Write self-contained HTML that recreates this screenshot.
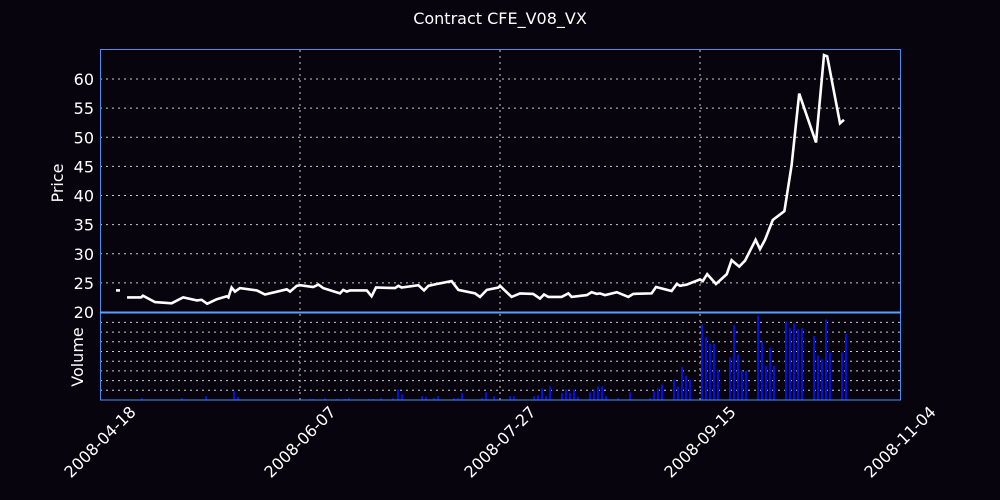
<!DOCTYPE html>
<html><head><meta charset="utf-8"><style>
html,body{margin:0;padding:0;background:#07040e;}
svg{display:block;font-family:"DejaVu Sans","Liberation Sans",sans-serif;}
</style></head><body>
<svg id="chart" width="1000" height="500" viewBox="0 0 1000 500">
<rect x="0" y="0" width="1000" height="500" fill="#07040e"/>
<text x="500" y="24" fill="#fff" font-size="16" text-anchor="middle">Contract CFE_V08_VX</text>
<g id="grid"></g>
<g id="vol"></g>
<g id="price"></g>
<g id="axes"></g>
<text transform="translate(63,183) rotate(-90)" fill="#fff" font-size="16" text-anchor="middle">Price</text>
<text transform="translate(83,357) rotate(-90)" fill="#fff" font-size="16" text-anchor="middle">Volume</text>
</svg>
<script>
// day offsets from 2008-04-18
const priceDays=[4,5,null,6.75,10.25,10.75,13.75,17.9,20.8,24.2,25.4,26.8,29.2,31.7,32.1,32.9,33.75,35,39.2,41.25,46.7,47.5,49.2,
50,53.3,54.6,55.8,60,60.8,61.7,62.5,66.7,67.9,69,73.75,74.6,75.4,79.6,81,82.1,84.2,87.9,89.6,93.75,95,96.7,99.6,
100,102.9,105,108.3,110,111,112.1,115.4,117.1,117.9,121.7,122.9,124.2,125,126.25,129.2,132.1,133.3,137.9,139,142.9,144.2,145,146.7,
150,150.7,151.8,154,156.7,157.9,159.8,161.25,163.9,165,166.25,168.2,171.1,172.9,174.8,179,181,181.8,185,186];
const priceVals=[23.7,23.7,null,22.5,22.5,22.8,21.7,21.5,22.5,22.0,22.1,21.4,22.2,22.7,22.5,24.2,23.5,24.1,23.7,23.0,23.9,23.5,24.5,
24.6,24.3,24.7,24.1,23.2,23.8,23.5,23.7,23.7,22.7,24.2,24.1,24.5,24.2,24.6,23.7,24.5,24.8,25.3,23.8,23.2,22.6,23.8,24.2,
24.5,22.6,23.2,23.1,22.3,23.0,22.6,22.6,23.2,22.6,22.9,23.4,23.1,23.2,22.9,23.4,22.6,23.1,23.2,24.3,23.6,24.8,24.5,24.7,
25.6,25.3,26.5,24.8,26.5,28.9,27.8,28.8,32.4,30.8,32.4,35.8,37.3,45.2,57.5,49.1,64.1,63.9,52.4,53.0];
const volDays=[10.5,20.5,26.5,33.5,34.5,52.5,53.25,56.25,59.25,61.25,62.25,67.25,68.25,70.25,73.25,74.5,75.5,
80.5,81.5,83.5,84.5,88.5,89.5,90.5,95.5,96.5,98.5,102.5,103.5,108.5,109.5,110.5,111.5,112.5,
115.5,116.5,117.5,118.5,119.5,122.5,123.5,124.5,125.5,126.5,129.5,132.5,137.5,138.5,139.5,140.5,
143.5,144.5,145.5,146.5,147.5,150.5,151.5,152.5,153.5,154.5,157.5,158.5,159.5,160.5,161.5,
164.5,165.5,166.5,167.5,168.5,171.5,172.5,173.5,174.5,175.5,178.5,179.5,180.5,181.5,182.5,185.5,186.5];
const volVals=[0.2,0.2,0.4,0.9,0.3,0.1,0.1,0.2,0.1,0.1,0.2,0.1,0.1,0.2,0.2,1.1,0.6,
0.4,0.3,0.2,0.4,0.2,0.2,0.7,0.2,0.8,0.4,0.4,0.4,0.4,0.5,1.2,0.4,1.4,
0.7,1.1,0.7,1.1,0.3,0.8,1.0,1.4,1.4,0.4,0.2,0.8,0.2,0.9,1.2,1.6,
2.1,1.4,3.4,2.5,2.1,7.8,6.5,5.8,5.8,3.1,4.4,7.7,4.7,3.0,3.0,
8.7,6.0,3.5,5.4,3.5,8.1,7.4,7.9,7.3,7.4,6.6,4.6,4.2,8.3,4.9,4.9,6.8];
const priceTicks=[20,25,30,35,40,45,50,55,60];
const dateTicks=["2008-04-18","2008-06-07","2008-07-27","2008-09-15","2008-11-04"];
const dateTickDays=[0,50,100,150,200];
const volTicks=[1,2,3,4,5,6,7,8];

const X=d=>100+d*4;
const YP=p=>312-(p-20)*5.825;
const YV=v=>400-v*9.7;
const NS="http://www.w3.org/2000/svg";
function mk(tag,parent,attrs){const e=document.createElementNS(NS,tag);for(const k in attrs)e.setAttribute(k,attrs[k]);parent.appendChild(e);return e;}
const grid=document.getElementById('grid'),vol=document.getElementById('vol'),price=document.getElementById('price'),axes=document.getElementById('axes');

priceTicks.forEach(t=>{
  if(t>20){const l=mk('line',grid,{x1:100,x2:900,y1:YP(t),y2:YP(t),stroke:'#ccc','stroke-width':1,'stroke-dasharray':'2,4'});
  
  }
  const tx=mk('text',axes,{x:94,y:YP(t)+6,fill:'#fff','font-size':16,'text-anchor':'end'});tx.textContent=t;
  
  
});
volTicks.forEach(t=>{
  const l=mk('line',grid,{x1:100,x2:900,y1:YV(t),y2:YV(t),stroke:'#ccc','stroke-width':1,'stroke-dasharray':'2,4'});
  
  
});
dateTickDays.forEach((d,i)=>{
  if(i>0&&i<4){const l=mk('line',grid,{x1:X(d),x2:X(d),y1:50,y2:400,stroke:'#ccc','stroke-width':1,'stroke-dasharray':'2,4'});
  
  }
  const tx=mk('text',axes,{transform:`translate(${X(d)},${442}) rotate(-45)`,fill:'#fff','font-size':16,'text-anchor':'middle','dominant-baseline':'central'});tx.textContent=dateTicks[i];
  
  
});
volDays.forEach((d,i)=>{
  if(volVals[i]<=0)return;
  const r=mk('rect',vol,{x:X(d)-1,y:YV(volVals[i]),width:2,height:400-YV(volVals[i]),fill:'#0010e0'});
  
  
});
let segs=[],cur=[];
priceDays.forEach((d,i)=>{const v=priceVals[i];if(v==null||d==null){if(cur.length)segs.push(cur);cur=[];}else cur.push(X(d).toFixed(1)+','+YP(v).toFixed(1));});
if(cur.length)segs.push(cur);
segs.forEach(s=>{
  const p=mk('polyline',price,{points:s.join(' '),fill:'none',stroke:'#fff','stroke-width':2.6,'stroke-linejoin':'miter'});
  
  
});
const f1=mk('rect',axes,{x:100.5,y:49.5,width:800,height:262.5,fill:'none',stroke:'#4a8ff0','stroke-width':1});


const f2=mk('rect',axes,{x:100.5,y:313,width:800,height:87,fill:'none',stroke:'#4a8ff0','stroke-width':1});


const sep=mk('line',axes,{x1:100,x2:901,y1:312.5,y2:312.5,stroke:'#5aa0ff','stroke-width':2});


</script>
</body></html>
